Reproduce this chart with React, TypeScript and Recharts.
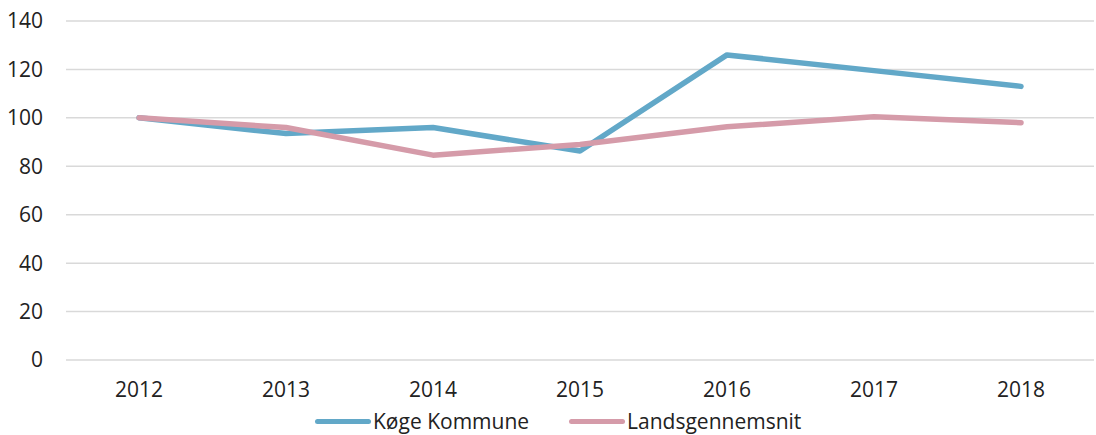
import React from 'react';
import { LineChart, Line, XAxis, YAxis, CartesianGrid } from 'recharts';

const years = ['2012', '2013', '2014', '2015', '2016', '2017', '2018'];
const koegeKommune = [100, 93.5, 96, 86.3, 126, 119.5, 113];
const landsgennemsnit = [100, 96, 84.6, 89, 96.3, 100.5, 98];
const yTicks = [0, 20, 40, 60, 80, 100, 120, 140];

const seriesNames = { koege: 'Køge Kommune', lands: 'Landsgennemsnit' };
const BLUE = '#62a8c8';
const PINK = '#d59ba9';

const data = years.map((year, i) => ({
  year,
  koege: koegeKommune[i],
  lands: landsgennemsnit[i],
}));

const font = '"Open Sans", sans-serif';
const FS = 21;

const LegendItem: React.FC<{ color: string; label: string }> = ({ color, label }) => (
  <div style={{ display: 'flex', alignItems: 'center', marginRight: 40 }}>
    <span
      style={{
        display: 'inline-block',
        width: 56,
        height: 5,
        borderRadius: 3,
        background: color,
        marginRight: 2,
      }}
    />
    <span>{label}</span>
  </div>
);

const App: React.FC = () => {
  return (
    <div style={{ position: 'absolute', left: 0, top: 0, width: 1096, height: 435, background: '#fff', fontFamily: font }}>
      <LineChart
        width={1096}
        height={435}
        data={data}
        margin={{ top: 21, right: 2, left: 0, bottom: 45 }}
      >
        <CartesianGrid vertical={false} stroke="#d9d9d9" strokeWidth={1.5} />
        <XAxis
          dataKey="year"
          axisLine={false}
          tickLine={false}
          height={30}
          tickMargin={16}
          padding={{ left: 73, right: 73 }}
          tick={{ fill: '#222', fontSize: FS, fontFamily: font }}
        />
        <YAxis
          domain={[0, 140]}
          ticks={yTicks}
          width={66}
          axisLine={false}
          tickLine={false}
          tickMargin={17}
          tick={{ fill: '#222', fontSize: FS, fontFamily: font }}
        />
        <Line
          type="linear"
          dataKey="koege"
          name={seriesNames.koege}
          stroke={BLUE}
          strokeWidth={5.5}
          strokeLinecap="round"
          strokeLinejoin="round"
          dot={false}
          isAnimationActive={false}
        />
        <Line
          type="linear"
          dataKey="lands"
          name={seriesNames.lands}
          stroke={PINK}
          strokeWidth={5.5}
          strokeLinecap="round"
          strokeLinejoin="round"
          dot={false}
          isAnimationActive={false}
        />
      </LineChart>
      <div
        style={{
          position: 'absolute',
          left: 315,
          top: 407,
          display: 'flex',
          fontSize: FS,
          color: '#222',
          lineHeight: '28px',
        }}
      >
        <LegendItem color={BLUE} label={seriesNames.koege} />
        <LegendItem color={PINK} label={seriesNames.lands} />
      </div>
    </div>
  );
};

export default App;
